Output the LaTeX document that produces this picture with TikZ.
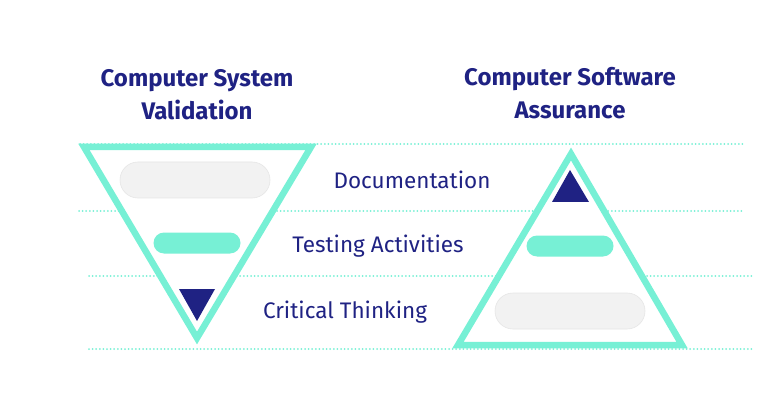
\documentclass[tikz,border=0pt]{standalone}
\usepackage{fontspec}
\setmainfont{Fira Sans}
\definecolor{mint}{HTML}{77F0D5}
\definecolor{navy}{HTML}{1F2283}
\definecolor{pillgray}{HTML}{F2F2F2}
\definecolor{pilledge}{HTML}{E6E6E6}
\begin{document}
\begin{tikzpicture}[x=1pt, y=-1pt,
    frame/.style={draw=mint, line width=6.5pt, line join=miter},
    dotrow/.style={draw=mint, line width=2pt, line cap=round, dash pattern=on 0pt off 3.6pt},
    widepill/.style={fill=pillgray, draw=pilledge, line width=0.6pt, minimum width=150pt,
                     minimum height=36pt, rounded corners=18pt, inner sep=0},
    midpill/.style={fill=mint, minimum width=87pt, minimum height=21pt,
                    rounded corners=10.5pt, inner sep=0},
    title/.style={font=\fontsize{24}{33}\selectfont\bfseries, text=navy, align=center},
    level/.style={font=\fontsize{22.5}{26}\selectfont, text=navy}]
  \useasboundingbox (0,0) rectangle (768,414);

  % dotted level lines
  \coordinate (d1a) at (80,144);  \coordinate (d1b) at (744,144);
  \coordinate (d2a) at (79,211);  \coordinate (d2b) at (744,211);
  \coordinate (d3a) at (89,276);  \coordinate (d3b) at (753,276);
  \coordinate (d4a) at (89,349);  \coordinate (d4b) at (753,349);
  \foreach \k in {1,...,4} {
    \draw[dotrow] (d\k a) -- (d\k b);
  }

  % left: inverted triangle (CSV)
  \coordinate (csvL) at (84,147);
  \coordinate (csvR) at (311,147);
  \coordinate (csvB) at (197,338);
  \draw[frame, fill=white] (csvL) -- (csvR) -- (csvB) -- cycle;
  \node[widepill] (csvdoc) at (195,180) {};
  \node[midpill] (csvtest) at (197,243) {};
  \fill[navy] (179,289) -- (215,289) -- (197,321) -- cycle;

  % right: upright triangle (CSA)
  \coordinate (csaT) at (571,154);
  \coordinate (csaL) at (458,345);
  \coordinate (csaR) at (682,345);
  \draw[frame, fill=white] (csaT) -- (csaR) -- (csaL) -- cycle;
  \fill[navy] (570,170) -- (589,202) -- (552,202) -- cycle;
  \node[midpill] (csatest) at (570,246) {};
  \node[widepill] (csadoc) at (570,311) {};

  % titles
  \node[title] (csvtitle) at (197,95) {Computer System\\Validation};
  \node[title] (csatitle) at (570,93) {Computer Software\\Assurance};

  % level names
  \node[level] (doc) at (412,180) {Documentation};
  \node[level] (test) at (378,246) {Testing Activities};
  \node[level] (think) at (345,312) {Critical Thinking};
\end{tikzpicture}
\end{document}
